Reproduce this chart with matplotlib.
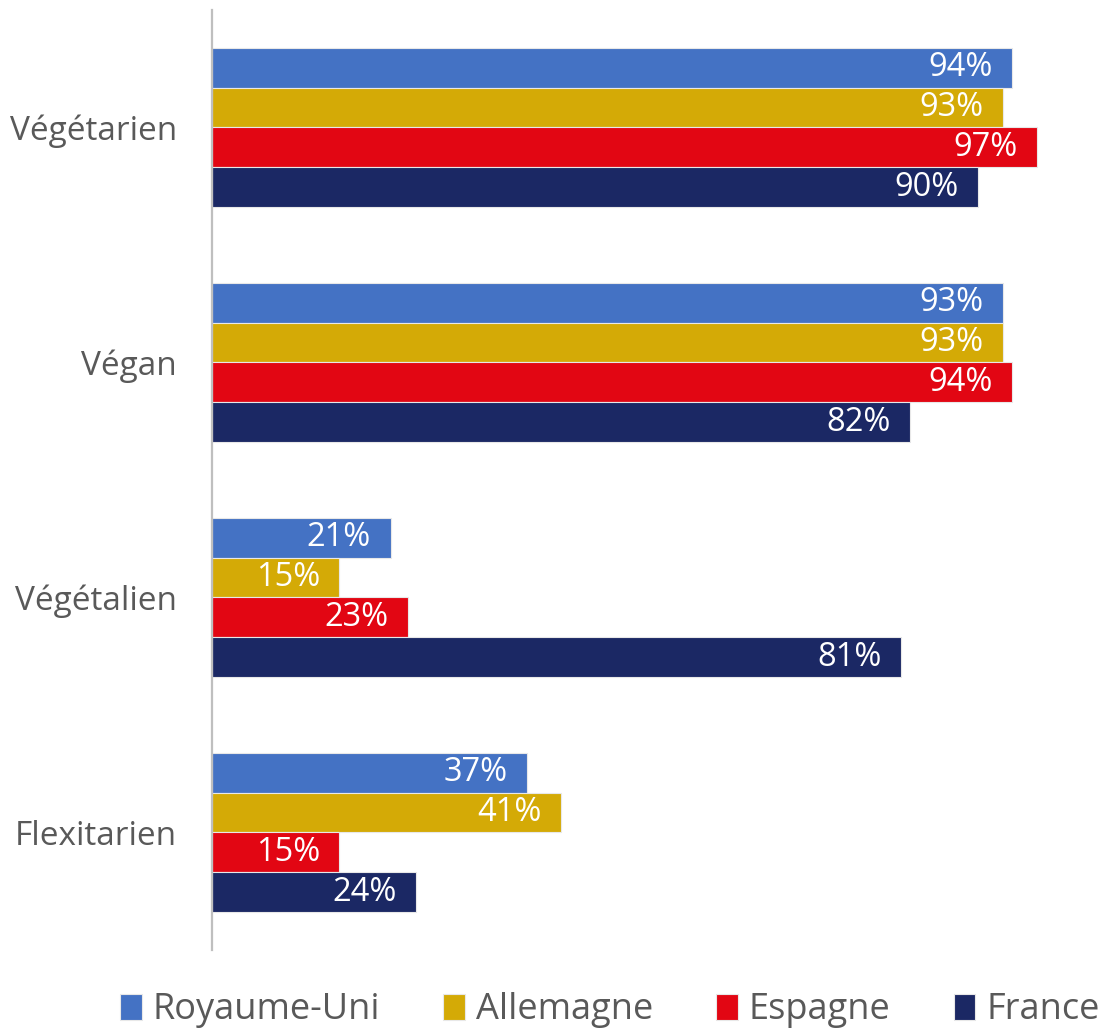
import matplotlib.pyplot as plt
import numpy as np

plt.rcParams['font.family'] = ['Open Sans', 'DejaVu Sans']

# data
categories = ['Végétarien', 'Végan', 'Végétalien', 'Flexitarien']
countries = ['Royaume-Uni', 'Allemagne', 'Espagne', 'France']
royaume_uni = [94, 93, 21, 37]
allemagne = [93, 93, 15, 41]
espagne = [97, 94, 23, 15]
france = [90, 82, 81, 24]

series = [royaume_uni, allemagne, espagne, france]
colors = ['#4472C4', '#D4AA06', '#E20613', '#1B2864']

fig = plt.figure(figsize=(11.09, 10.30), dpi=100)
ax = fig.add_axes([0.191, 0.0777, 0.7675, 0.9126])

y = np.arange(len(categories))
h = 0.17
for i, (vals, col, name) in enumerate(zip(series, colors, countries)):
    pos = y + (i - 1.5) * h
    bars = ax.barh(pos, vals, height=h, color=col, edgecolor='#E8E8E8',
                   linewidth=0.8, label=name)
    for b, v in zip(bars, vals):
        ax.annotate(f'{v}%', (v, b.get_y() + h / 2), xytext=(-14, 0),
                    textcoords='offset points', ha='right', va='center',
                    color='white', fontsize=23.5)

ax.set_xlim(0, 100)
ax.set_ylim(3.5, -0.5)
ax.set_yticks(y)
ax.set_yticklabels(categories, fontsize=24, color='#595959')
ax.tick_params(axis='y', length=0, pad=25)
ax.set_xticks([])
for s in ['top', 'right', 'bottom']:
    ax.spines[s].set_visible(False)
ax.spines['left'].set_color('#BFBFBF')
ax.spines['left'].set_linewidth(1.6)

fig.legend(loc='lower center', bbox_to_anchor=(0.55, -0.03), ncol=4,
           frameon=False, fontsize=26, labelcolor='#595959',
           handlelength=0.6, handleheight=0.75, handletextpad=0.3,
           columnspacing=1.75)

fig.savefig('out.png', dpi=100)
